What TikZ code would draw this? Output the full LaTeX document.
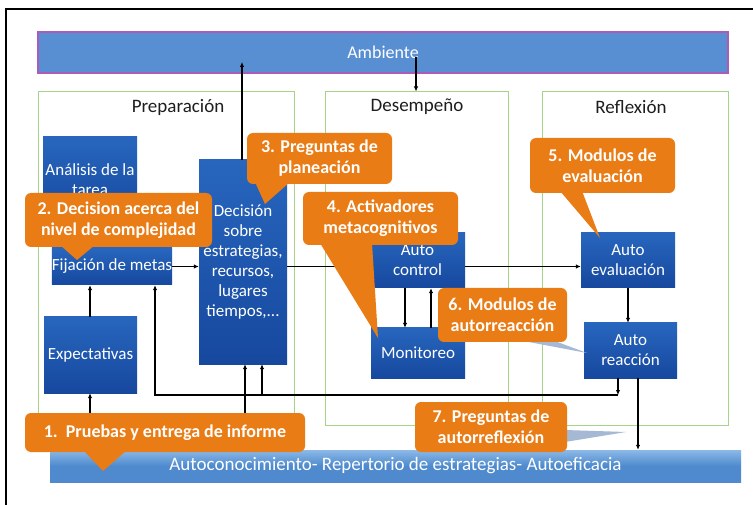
\documentclass[tikz,border=0pt]{standalone}
\usepackage{fontspec}
\setmainfont{Carlito}
\usetikzlibrary{arrows.meta,calc}
\definecolor{orangec}{RGB}{234,124,22}
\definecolor{boxtop}{RGB}{40,102,190}
\definecolor{boxbot}{RGB}{22,72,158}
\definecolor{ambfill}{RGB}{88,142,210}
\definecolor{ambline}{RGB}{172,92,182}
\definecolor{phasec}{RGB}{165,212,135}
\definecolor{bartop}{RGB}{140,185,232}
\definecolor{barbot}{RGB}{78,138,205}
\definecolor{ptrblue}{RGB}{165,185,212}
\definecolor{titlec}{RGB}{30,30,30}
\begin{document}
\begin{tikzpicture}[x=1pt,y=-1pt,
  phase/.style={rectangle, draw=phasec, line width=1pt, inner sep=0pt},
  ptitle/.style={font=\fontsize{19}{22}\selectfont, text=titlec, inner sep=0pt},
  bluebox/.style={rectangle, inner sep=0pt, top color=boxtop, bottom color=boxbot, text=white, align=center, font=\fontsize{17}{20}\selectfont},
  ambbar/.style={rectangle, fill=ambfill, draw=ambline, line width=1.5pt, text=white, font=\fontsize{18}{21}\selectfont, inner sep=0pt},
  botbar/.style={rectangle, top color=bartop, bottom color=barbot, middle color=barbot, text=white, font=\fontsize{19}{22}\selectfont, inner sep=0pt},
  callout/.style={rectangle, rounded corners=6pt, fill=orangec, text=white, align=center, inner sep=0pt, font=\bfseries\fontsize{18}{21}\selectfont},
  arr/.style={line width=1.5pt, -{Latex[length=5pt,width=4.5pt]}}
]
\useasboundingbox (0,0) rectangle (753,505);
\fill[white] (0,0) rectangle (753,505);
% frame
\draw[line width=1.3pt] (6,505) -- (6,9) -- (753,9);

% phase boxes
\node[phase, minimum width=256pt, minimum height=323pt] (prep) at (166,253.5) {};
\node[phase, minimum width=183pt, minimum height=333pt] (desem) at (416.5,258.5) {};
\node[phase, minimum width=186pt, minimum height=333pt] (refl) at (635,258.5) {};
\node[ptitle] (tprep) at (178,107) {Preparación};
\node[ptitle] (tdesem) at (417,107) {Desempeño};
\node[ptitle] (trefl) at (631,107) {Reflexión};

% ambiente bar
\node[ambbar, minimum width=690pt, minimum height=41pt] (amb) at (383,52.5) {Ambiente};

% bottom bar
\node[botbar, minimum width=691pt, minimum height=32pt] (bar) at (395.5,466) {Autoconocimiento- Repertorio de estrategias- Autoeficacia};

% blue boxes
\node[bluebox, minimum width=94pt, minimum height=86pt] (anal) at (90,180) {Análisis de la\\tarea};
\node[bluebox, minimum width=120pt, minimum height=37pt] (fij) at (112,266.5) {Fijación de metas};
\node[bluebox, minimum width=93pt, minimum height=76pt] (expe) at (90.5,355) {Expectativas};
\node[bluebox, minimum width=88pt, minimum height=204pt] (dec) at (243,262) {Decisión\\sobre\\estrategias,\\recursos,\\lugares\\tiempos,...};
\node[bluebox, minimum width=95pt, minimum height=55pt] (actl) at (417.5,260.5) {Auto\\control};
\node[bluebox, minimum width=94pt, minimum height=50pt] (mon) at (418,353) {Monitoreo};
\node[bluebox, minimum width=94pt, minimum height=55pt] (aeval) at (628,260.5) {Auto\\evaluación};
\node[bluebox, minimum width=93pt, minimum height=55pt] (areac) at (630.5,350.5) {Auto\\reacción};

% connectors
\coordinate (ambup) at (242,62);
\draw[arr] (dec.north -| ambup) -- (ambup);
\coordinate (ambdn) at (416,57);
\draw[arr] (ambdn) -- (ambdn |- desem.north);
\draw[arr] (fij.east) -- (fij.east -| dec.west);
\draw[arr] (dec.east |- fij.east) -- (actl.west |- fij.east);
\draw[arr] (actl.east |- fij.east) -- (aeval.west |- fij.east);
\coordinate (cx1) at (405,0);
\draw[arr] (actl.south -| cx1) -- (mon.north -| cx1);
\coordinate (cx2) at (431,0);
\draw[arr] (mon.north -| cx2) -- (actl.south -| cx2);
\draw[arr] (aeval.south) -- (aeval.south |- areac.north);
\coordinate (fb) at (618,395);
\coordinate (fbl) at (155,395);
\draw[arr] (areac.south -| fb) -- (fb);
\draw[arr] (fb) -- (fbl) -- (fbl |- fij.south);
\coordinate (fb2) at (262,395);
\draw[arr] (fb2) -- (fb2 |- dec.south);
\coordinate (b1) at (245,0);
\draw[arr] (bar.north -| b1) -- (dec.south -| b1);
\coordinate (b2) at (90,0);
\draw[arr] (bar.north -| b2) -- (expe.south -| b2);
\draw[arr] (expe.north -| b2) -- (fij.south -| b2);
\coordinate (b3) at (638,0);
\draw[arr] (areac.south -| b3) -- (bar.north -| b3);

% callout pointers
\fill[orangec] (83,450) -- (127,450) -- (103,471) -- cycle;
\fill[orangec] (60,245) -- (95,245) -- (77,260) -- cycle;
\fill[orangec] (255,182) -- (290,182) -- (265,204) -- cycle;
\fill[orangec] (320,243) -- (372,243) -- (378,338) -- cycle;
\fill[orangec] (560,191) -- (582,191) -- (600,238) -- cycle;
\fill[ptrblue] (518,340) -- (552,340) -- (587,353) -- cycle;
\fill[ptrblue] (565,430) -- (565,442) -- (626,432) -- cycle;

% callouts
\node[callout, minimum width=280pt, minimum height=39pt] (c1) at (165,432.5) {1.\ \ Pruebas y entrega de informe};
\node[callout, minimum width=187pt, minimum height=54pt] (c2) at (118.5,220) {2. Decision acerca del\\nivel de complejidad};
\node[callout, minimum width=145pt, minimum height=51pt] (c3) at (319.5,158.5) {3. Preguntas de\\planeación};
\node[callout, minimum width=155pt, minimum height=53pt] (c4) at (380.5,218.5) {4. Activadores\\metacognitivos};
\node[callout, minimum width=145pt, minimum height=55pt] (c5) at (602.5,165.5) {5. Modulos de\\evaluación};
\node[callout, minimum width=129pt, minimum height=54pt] (c6) at (502.5,315) {6. Modulos de\\autorreacción};
\node[callout, minimum width=152pt, minimum height=50pt] (c7) at (491,427) {7. Preguntas de\\autorreflexión};
\end{tikzpicture}
\end{document}
